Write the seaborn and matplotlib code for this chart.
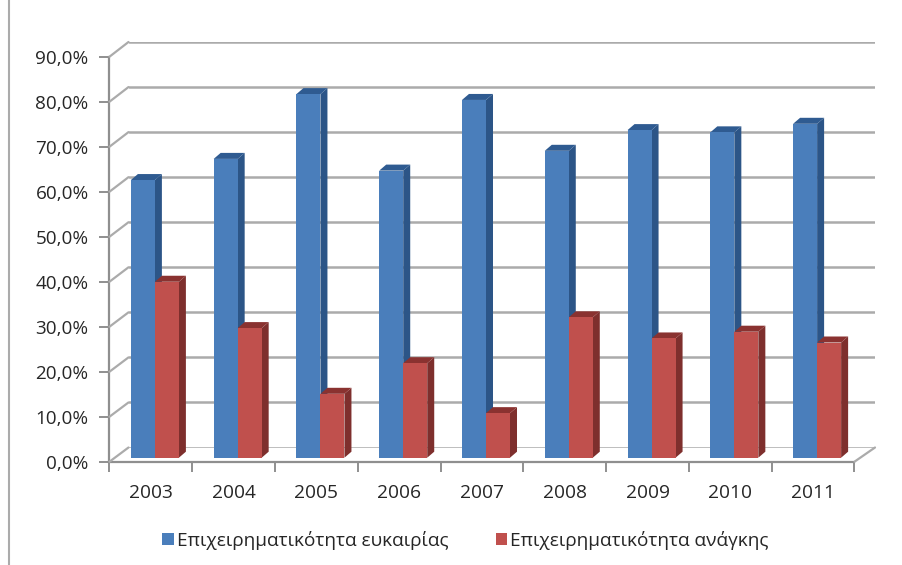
import matplotlib
matplotlib.use("Agg")
import matplotlib.pyplot as plt
from matplotlib.lines import Line2D
from matplotlib.patches import ConnectionPatch, Polygon
from matplotlib.ticker import FuncFormatter
from matplotlib.transforms import IdentityTransform
import pandas as pd
import seaborn as sns

years = ["2003", "2004", "2005", "2006", "2007", "2008", "2009", "2010", "2011"]
opportunity = [61.7, 66.4, 80.8, 63.8, 79.5, 68.2, 72.8, 72.3, 74.2]
necessity = [39.1, 28.8, 14.2, 21.0, 9.9, 31.2, 26.5, 28.0, 25.6]
series_names = ["Επιχειρηματικότητα ευκαιρίας", "Επιχειρηματικότητα ανάγκης"]
y_ticks = [0, 10, 20, 30, 40, 50, 60, 70, 80, 90]

FACE = ["#4A7EBB", "#C0504D"]
SIDE = ["#2C5587", "#7E2F2D"]
TOP = ["#2F5B91", "#8A3230"]
GRID = "#ABABAB"
AXIS = "#8F8F8F"
TEXT = "#262626"

W, H = 903, 565
DEPTH = (7, 6)  # pixel extrusion of each column


def pixel_axes(fig, left, right, top, bottom):
    """Axes whose box is given in pixels, measured from the top-left corner."""
    ax = fig.add_axes([left / W, 1 - bottom / H, (right - left) / W, (bottom - top) / H])
    ax.set_xlim(-0.5, 8.5)
    ax.set_ylim(0, 90)
    ax.patch.set_alpha(0)
    return ax


sns.set_style("white")
plt.rcParams["font.family"] = ["Open Sans", "DejaVu Sans"]

fig = plt.figure(figsize=(W / 100, H / 100), dpi=100, facecolor="white")

# Back wall: only the horizontal gridlines are visible
back = pixel_axes(fig, 128.5, 875, 42, 447.5)
back.set_yticks(y_ticks)
back.set_xticks([])
back.set_yticklabels([])
back.grid(axis="y", color=GRID, lw=1.8)
sns.despine(ax=back, left=True, bottom=True)

# Front plane: carries the two visible axes with ticks and labels
front = pixel_axes(fig, 109.5, 854.5, 56.7, 461.7)
sns.despine(ax=front)
for side in ("left", "bottom"):
    front.spines[side].set_color(AXIS)
    front.spines[side].set_linewidth(1.6)
front.set_yticks(y_ticks)
front.yaxis.set_major_formatter(
    FuncFormatter(lambda v, _: f"{v:.1f}%".replace(".", ","))
)
front.set_xticks([i + 0.5 for i in range(-1, 9)])
front.set_xticklabels([])
front.set_xticks(range(len(years)), labels=years, minor=True)
front.tick_params(axis="y", which="major", left=True, length=7, width=1.4, color=AXIS,
                  labelsize=13.6, labelcolor=TEXT, pad=8)
front.tick_params(axis="x", which="major", bottom=True, length=7, width=1.4, color=AXIS)
front.tick_params(axis="x", which="minor", bottom=False, length=0, labelsize=13.8,
                  labelcolor=TEXT, pad=16)

# Slanted edges joining the front plane to the back wall
for v in y_ticks:
    fig.add_artist(ConnectionPatch((-0.5, v), (-0.5, v), front.transData, back.transData,
                                   color=GRID, lw=1.6))
fig.add_artist(ConnectionPatch((8.5, 0), (8.5, 0), front.transData, back.transData,
                               color=GRID, lw=1.6))

# Columns
bars = pixel_axes(fig, 113.5, 858.5, 52.7, 457.7)
df = pd.DataFrame({
    "year": years * 2,
    "value": opportunity + necessity,
    "series": [series_names[0]] * len(years) + [series_names[1]] * len(years),
})
sns.barplot(data=df, x="year", y="value", hue="series", palette=FACE, saturation=1,
            width=0.58, gap=0, dodge=True, legend=False, ax=bars)
bars.set_xlim(-0.5, 8.5)
bars.set_ylim(0, 90)
bars.axis("off")
fig.canvas.draw()

# Extrude every column into its side and top faces
dx, dy = DEPTH
for s, container in enumerate(bars.containers):
    base = 2 + s * 3
    for patch in container:
        patch.set_zorder(base + 1)
        patch.set_linewidth(0)
        x0, y0 = patch.get_xy()
        x1, y1 = x0 + patch.get_width(), y0 + patch.get_height()
        (ax0, ay0), (ax1, ay1) = bars.transData.transform([(x0, y0), (x1, y1)])
        side_face = [(ax1, ay0), (ax1 + dx, ay0 + dy), (ax1 + dx, ay1 + dy), (ax1, ay1)]
        top_face = [(ax0, ay1), (ax0 + dx, ay1 + dy), (ax1 + dx, ay1 + dy), (ax1, ay1)]
        bars.add_patch(Polygon(side_face, closed=True, transform=IdentityTransform(),
                               facecolor=SIDE[s], lw=0, zorder=base, clip_on=False))
        bars.add_patch(Polygon(top_face, closed=True, transform=IdentityTransform(),
                               facecolor=TOP[s], lw=0, zorder=base, clip_on=False))

# Legend under the plot
handles = [c[0] for c in bars.containers]
fig.legend(handles, series_names, ncol=2, loc="center", bbox_to_anchor=(465.5 / W, 1 - 540 / H),
           frameon=False, fontsize=13.7, labelcolor=TEXT, handlelength=0.6, handleheight=0.6,
           handletextpad=0.15, columnspacing=2.5)

# Thin rule along the left edge of the page
fig.add_artist(Line2D([8.5 / W, 8.5 / W], [0, 1], color="#ABABAB", lw=1.5,
                      transform=fig.transFigure))

fig.savefig("out.png", dpi=100, facecolor="white")
